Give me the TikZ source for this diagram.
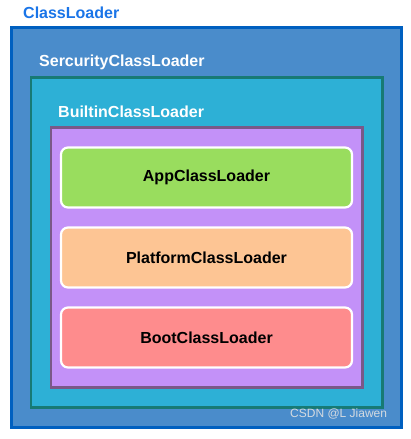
\documentclass[tikz,border=0pt]{standalone}
\usepackage{fontspec}
\setmainfont{Liberation Sans}
\definecolor{clborder}{HTML}{0060C0}
\definecolor{clfill}{HTML}{4A8CCB}
\definecolor{clblue}{HTML}{1A75E8}
\definecolor{secborder}{HTML}{177A74}
\definecolor{secfill}{HTML}{2DB0D6}
\definecolor{bborder}{HTML}{7A5888}
\definecolor{bfill}{HTML}{C391F8}
\definecolor{appfill}{HTML}{99DD5E}
\definecolor{platfill}{HTML}{FDC594}
\definecolor{bootfill}{HTML}{FE8C8D}
\definecolor{wm}{HTML}{D4DAE0}
\tikzset{
  frame/.style={line width=#1},
  loader/.style={draw=white, line width=2.2pt, rounded corners=7pt, minimum width=291pt, minimum height=60pt, inner sep=0pt, font=\fontsize{16}{19}\selectfont\bfseries, text=black},
  lbl/.style={anchor=west, inner sep=0pt, font=\fontsize{16}{19}\selectfont\bfseries}
}
\begin{document}
\begin{tikzpicture}[x=1pt,y=-1pt]
\useasboundingbox (0,0) rectangle (411,439);
\fill[white] (0,0) rectangle (411,439);
\draw[draw=clborder, fill=clfill, line width=3pt] (11.5,27.5) rectangle (401.5,427.5);
\draw[draw=secborder, fill=secfill, line width=2.5pt] (31,77.5) rectangle (382.5,407.5);
\draw[draw=bborder, fill=bfill, line width=2.5pt] (51,127.5) rectangle (362.5,387.5);
\node[lbl, text=clblue] (cl) at (23,13) {ClassLoader};
\node[lbl, text=white] (sec) at (39,62) {SercurityClassLoader};
\node[lbl, text=white] (bcl) at (58,112) {BuiltinClassLoader};
\node[loader, fill=appfill] (app) at (206.5,177.5) {AppClassLoader};
\node[loader, fill=platfill] (plat) at (206.5,257.5) {PlatformClassLoader};
\node[loader, fill=bootfill] (boot) at (206.5,337.5) {BootClassLoader};
\node[anchor=west, inner sep=0pt, font=\fontsize{12}{14}\selectfont, text=wm] (wmk) at (290,414) {CSDN @L Jiawen};
\end{tikzpicture}
\end{document}
